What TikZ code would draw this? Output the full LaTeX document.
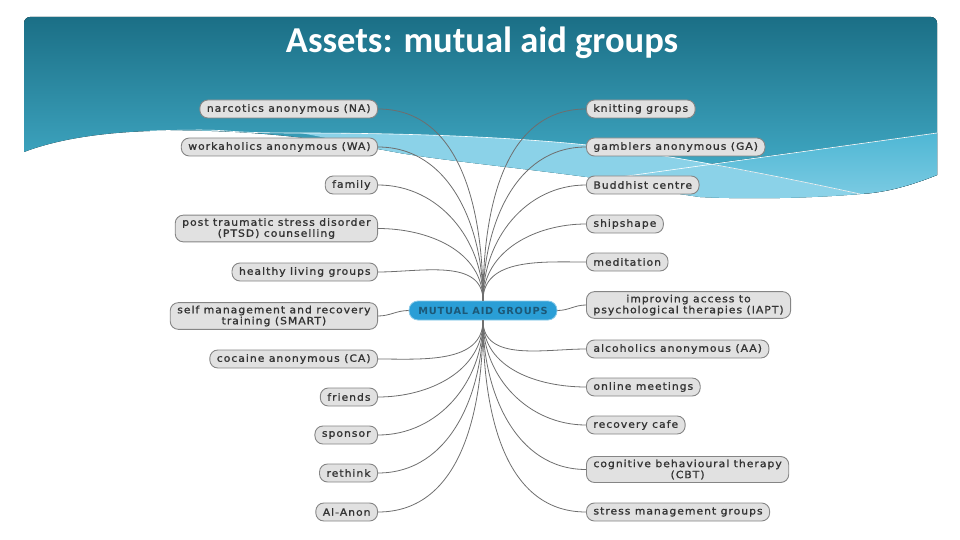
\documentclass[tikz,border=0pt]{standalone}
\usepackage{fontspec}
\setmainfont{DejaVu Sans}
\newfontfamily\titlefont{Carlito Bold}
\newfontfamily\leaffont[LetterSpace=10, FakeBold=1.2, FakeStretch=1.08]{DejaVu Sans}
\newfontfamily\hubfont[LetterSpace=8]{DejaVu Sans Bold}
\usepackage{tikz}

\definecolor{hdrtop}{HTML}{1B6F86}
\definecolor{hdrbot}{HTML}{47B3CF}
\definecolor{bandmid}{HTML}{4FB7D4}
\definecolor{bandlight}{HTML}{8BD2E8}
\definecolor{leaffill}{HTML}{E1E1E1}
\definecolor{leafline}{HTML}{858585}
\definecolor{leaftext}{HTML}{333333}
\definecolor{hubfill}{HTML}{2A9ED6}
\definecolor{hubtext}{HTML}{1C5877}
\definecolor{linkgray}{HTML}{6E6E6E}

\begin{document}
\begin{tikzpicture}[x=1pt, y=1pt,
    leaf/.style={draw=leafline, fill=leaffill, line width=0.9pt, rounded corners=8pt,
                 inner xsep=7pt, inner ysep=3pt, minimum height=18pt, align=center,
                 text=leaftext, font=\leaffont\fontsize{10}{11}\selectfont},
    hubnode/.style={draw=hubfill!55!white, fill=hubfill, line width=0.8pt, rounded corners=9pt,
                 minimum width=148pt, minimum height=19pt, inner sep=2pt,
                 text=hubtext, font=\hubfont\fontsize{9.8}{10}\selectfont},
    link/.style={draw=linkgray, line width=0.8pt}]
              \useasboundingbox (0,0) rectangle (960,-540);

              % header band
              \fill[top color=hdrtop, bottom color=hdrbot]
                (24,-152) -- (24,-23) arc[start angle=180, end angle=90, radius=6]
                -- (931,-17) arc[start angle=90, end angle=0, radius=6] -- (937,-175)
                .. controls (905,-188) and (880,-193) .. (860,-194)
                .. controls (800,-199) and (740,-199) .. (700,-197)
                .. controls (650,-190) and (620,-182) .. (587,-177)
                .. controls (520,-168) and (440,-160) .. (400,-153)
                .. controls (330,-140) and (250,-128) .. (150,-131)
                .. controls (90,-133) and (50,-142) .. (24,-152) -- cycle;
              \fill[bandlight] (300,-133) .. controls (420,-133) and (520,-138) .. (587,-145)
                .. controls (650,-152) and (760,-172) .. (860,-194)
                .. controls (800,-199) and (740,-199) .. (700,-197)
                .. controls (650,-190) and (620,-182) .. (587,-177)
                .. controls (520,-168) and (440,-160) .. (400,-153)
                .. controls (360,-146) and (330,-138) .. (300,-133) -- cycle;
              \fill[top color=bandmid, bottom color=bandlight!70!bandmid]
                (710,-164) -- (937,-133) -- (937,-175)
                .. controls (905,-188) and (880,-193) .. (860,-194)
                .. controls (810,-183) and (760,-173) .. (710,-164) -- cycle;
              \draw[white, line width=0.6pt] (150,-131) .. controls (250,-128) and (200,-133) .. (300,-133)
                .. controls (420,-133) and (520,-138) .. (587,-145)
                .. controls (650,-152) and (760,-172) .. (860,-194);
              \draw[white, line width=0.6pt] (620,-177) -- (937,-133);

              \node[text=white] (title) at (482,-43) {\titlefont\fontsize{36.5}{40}\selectfont Assets: mutual aid groups};

              % centre
              \node[hubnode] (hub) at (483,-310.5) {MUTUAL AID GROUPS};

              % left column
              \node[leaf, anchor=east] (NA) at (378,-109) {narcotics anonymous (NA)};
              \node[leaf, anchor=east] (WA) at (378,-147) {workaholics anonymous (WA)};
              \node[leaf, anchor=east] (family) at (378,-185) {family};
              \node[leaf, anchor=east] (PTSD) at (378,-228.5) {post traumatic stress disorder\\(PTSD) counselling};
              \node[leaf, anchor=east] (healthy) at (378,-272) {healthy living groups};
              \node[leaf, anchor=east] (SMART) at (378,-316) {self management and recovery\\training (SMART)};
              \node[leaf, anchor=east] (CA) at (378,-359) {cocaine anonymous (CA)};
              \node[leaf, anchor=east] (friends) at (378,-397) {friends};
              \node[leaf, anchor=east] (sponsor) at (378,-435) {sponsor};
              \node[leaf, anchor=east] (rethink) at (378,-473) {rethink};
              \node[leaf, anchor=east] (AlAnon) at (378,-512) {Al-Anon};

              % right column
              \node[leaf, anchor=west] (knitting) at (586,-109) {knitting groups};
              \node[leaf, anchor=west] (GA) at (586,-147) {gamblers anonymous (GA)};
              \node[leaf, anchor=west] (buddhist) at (586,-185) {Buddhist centre};
              \node[leaf, anchor=west] (shipshape) at (586,-224) {shipshape};
              \node[leaf, anchor=west] (meditation) at (586,-262) {meditation};
              \node[leaf, anchor=west] (IAPT) at (586,-305) {improving access to\\psychological therapies (IAPT)};
              \node[leaf, anchor=west] (AA) at (586,-349) {alcoholics anonymous (AA)};
              \node[leaf, anchor=west] (online) at (586,-387) {online meetings};
              \node[leaf, anchor=west] (cafe) at (586,-425) {recovery cafe};
              \node[leaf, anchor=west] (CBT) at (586,-469.5) {cognitive behavioural therapy\\(CBT)};
              \node[leaf, anchor=west] (stress) at (586,-512) {stress management groups};

              \draw[link] (NA.east) edge[out=0, in=90] (hub.north)
                          (WA.east) edge[out=0, in=90] (hub.north)
                          (family.east) edge[out=0, in=90] (hub.north)
                          (PTSD.east) edge[out=0, in=90] (hub.north)
                          (healthy.east) edge[out=0, in=90] (hub.north)
                          (SMART.east) edge[out=0, in=180] (hub.west)
                          (CA.east) edge[out=0, in=-90] (hub.south)
                          (friends.east) edge[out=0, in=-90] (hub.south)
                          (sponsor.east) edge[out=0, in=-90] (hub.south)
                          (rethink.east) edge[out=0, in=-90] (hub.south)
                          (AlAnon.east) edge[out=0, in=-90] (hub.south);
              \draw[link] (hub.north) edge[out=90, in=180] (knitting.west)
                          (hub.north) edge[out=90, in=180] (GA.west)
                          (hub.north) edge[out=90, in=180] (buddhist.west)
                          (hub.north) edge[out=90, in=180] (shipshape.west)
                          (hub.north) edge[out=90, in=180] (meditation.west)
                          (hub.east) edge[out=0, in=180] (IAPT.west)
                          (hub.south) edge[out=-90, in=180] (AA.west)
                          (hub.south) edge[out=-90, in=180] (online.west)
                          (hub.south) edge[out=-90, in=180] (cafe.west)
                          (hub.south) edge[out=-90, in=180] (CBT.west)
                          (hub.south) edge[out=-90, in=180] (stress.west);
            \end{tikzpicture}
\end{document}
